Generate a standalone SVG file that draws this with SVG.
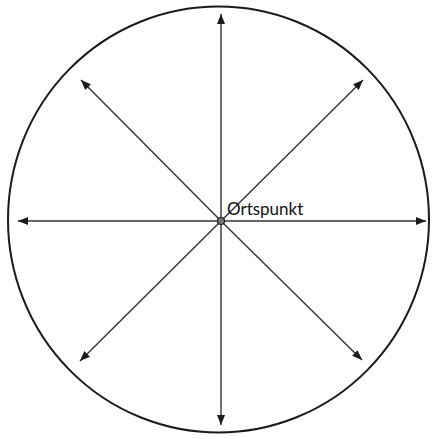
<svg xmlns="http://www.w3.org/2000/svg" width="433" height="439" viewBox="0 0 433 439">
<style>
.c{fill:none;stroke:#1a1a1a;stroke-width:2}
.a{stroke:#333;stroke-width:1.4;fill:none;marker-end:url(#ah)}
.t{font-family:Lato,"Open Sans",sans-serif;font-size:17px;fill:#111}
</style>
<defs>
<marker id="ah" viewBox="0 0 10 8" refX="10" refY="4" markerWidth="10" markerHeight="8" markerUnits="userSpaceOnUse" orient="auto">
<path d="M0,0 L10,4 L0,8 Z" fill="#1a1a1a"/>
</marker>
</defs>
<g id="circle"><ellipse class="c" cx="218.5" cy="219.5" rx="210.5" ry="213"/></g>
<g id="connectors">
<line class="a" x1="221" y1="221" x2="221" y2="14"/>
<line class="a" x1="221" y1="221" x2="221" y2="425"/>
<line class="a" x1="221" y1="221" x2="18" y2="221"/>
<line class="a" x1="221" y1="221" x2="426" y2="221"/>
<line class="a" x1="221" y1="221" x2="81" y2="80"/>
<line class="a" x1="221" y1="221" x2="363" y2="80"/>
<line class="a" x1="221" y1="221" x2="80" y2="361"/>
<line class="a" x1="221" y1="221" x2="362" y2="360"/>
</g>
<g id="origin">
<circle cx="221" cy="221" r="3.5" fill="#777" stroke="#222" stroke-width="1.2"/>
<text class="t" x="227" y="214.5">Ortspunkt</text>
</g>
</svg>
